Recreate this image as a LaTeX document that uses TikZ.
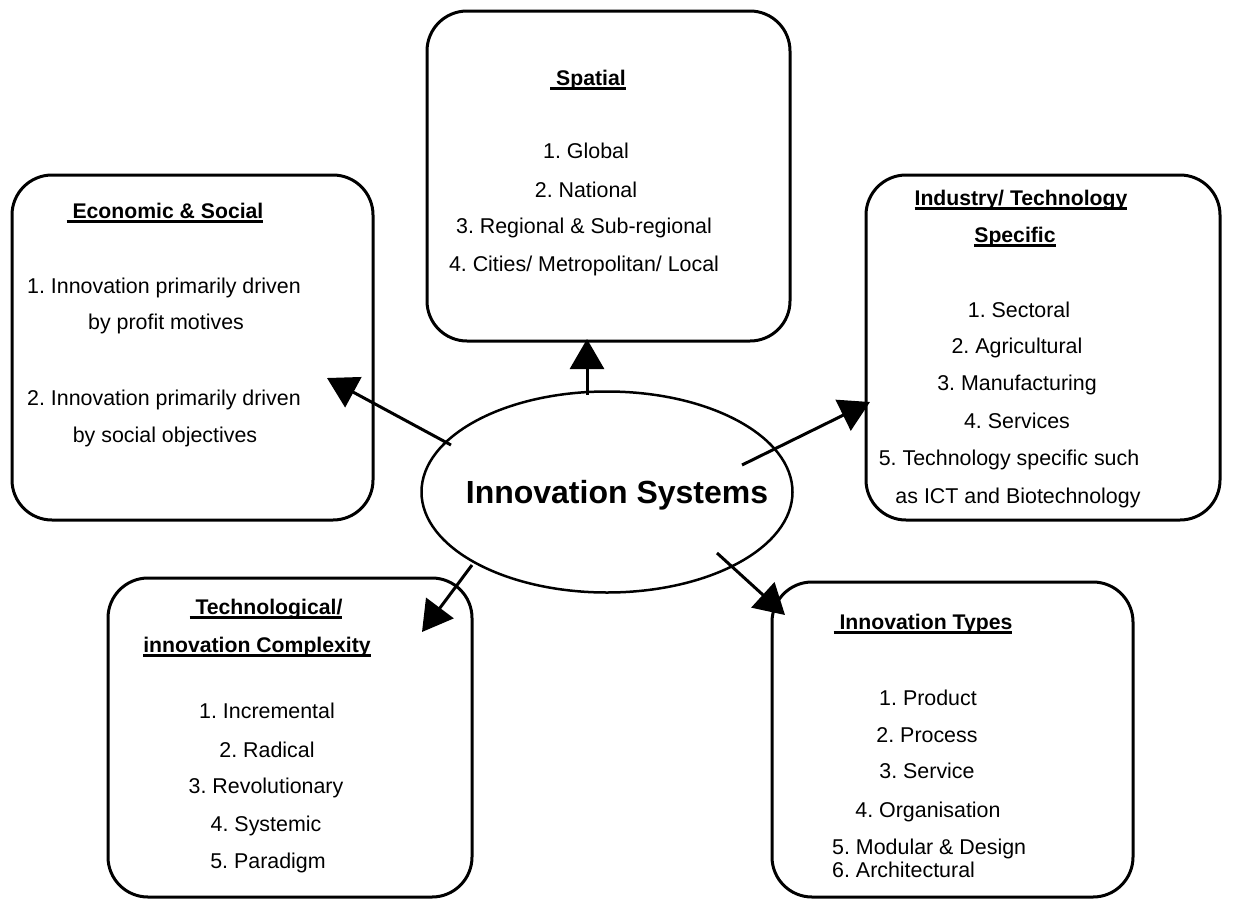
\documentclass[tikz,border=0pt]{standalone}
\usepackage{fontspec}
\setmainfont{Liberation Sans}
\usetikzlibrary{arrows.meta,shapes.geometric}
\newcommand\hdul[1]{\setbox0\hbox{#1}\rlap{\rule[-4.6pt]{\wd0}{2.2pt}}\box0}
\frenchspacing
\begin{document}
\begin{tikzpicture}[x=1pt,y=-1pt,
  box/.style={draw, line width=3pt, rounded corners=40pt, rectangle, inner sep=0pt},
  txt/.style={anchor=base, inner sep=0pt, font=\fontsize{21.4}{25}\selectfont\frenchspacing},
  hd/.style={anchor=base, inner sep=0pt, font=\fontsize{21.2}{25}\selectfont\bfseries\frenchspacing},
  arr/.style={line width=3pt, -{Triangle[length=30pt,width=34pt]}}]
\useasboundingbox (0,0) rectangle (1234,900);

% boxes
\node[box, minimum width=361pt, minimum height=345pt] (econ) at (192.5,347.5) {};
\node[box, minimum width=363pt, minimum height=330pt] (spat) at (608.5,176) {};
\node[box, minimum width=354pt, minimum height=345pt] (indu) at (1043,347.5) {};
\node[box, minimum width=364pt, minimum height=319pt] (tech) at (290,737.5) {};
\node[box, minimum width=361pt, minimum height=315pt] (type) at (952.5,739.5) {};

% centre
\node[draw, ellipse, line width=2.5pt, minimum width=371pt, minimum height=201pt, inner sep=0pt] (core) at (607,492) {};
\node[anchor=base, inner sep=0pt, font=\fontsize{32}{36}\selectfont\bfseries] (title) at (617,503) {Innovation Systems};

% Economic & Social
\node[hd]  (e0) at (165,218) {\hdul{\ Economic \& Social}};
\node[txt] (e1) at (164,293) {1. Innovation primarily driven};
\node[txt] (e2) at (166,329) {by profit motives};
\node[txt] (e3) at (164,405) {2. Innovation primarily driven};
\node[txt] (e4) at (165,442) {by social objectives};

% Spatial
\node[hd]  (s0) at (588,85) {\hdul{\ Spatial}};
\node[txt] (s1) at (586,158) {1. Global};
\node[txt] (s2) at (586,197) {2. National};
\node[txt] (s3) at (584,233) {3. Regional \& Sub-regional};
\node[txt] (s4) at (584,271) {4. Cities/ Metropolitan/ Local};

% Industry
\node[hd]  (i0) at (1021,205) {\hdul{Industry/ Technology}};
\node[hd]  (i1) at (1015,242) {\hdul{Specific}};
\node[txt] (i2) at (1019,317) {1. Sectoral};
\node[txt] (i3) at (1017,353) {2. Agricultural};
\node[txt] (i4) at (1017,390) {3. Manufacturing};
\node[txt] (i5) at (1017,428) {4. Services};
\node[txt] (i6) at (1009,465) {5. Technology specific such};
\node[txt] (i7) at (1018,503) {as ICT and Biotechnology};

% Technological
\node[hd]  (t0) at (266,614) {\hdul{\ Technological/}};
\node[hd]  (t1) at (257,652) {\hdul{innovation Complexity}};
\node[txt] (t2) at (267,718) {1. Incremental};
\node[txt] (t3) at (267,757) {2. Radical};
\node[txt] (t4) at (266,793) {3. Revolutionary};
\node[txt] (t5) at (266,831) {4. Systemic};
\node[txt] (t6) at (268,868) {5. Paradigm};

% Innovation Types
\node[hd]  (y0) at (923,629) {\hdul{\ Innovation Types}};
\node[txt] (y1) at (928,705) {1. Product};
\node[txt] (y2) at (927,742) {2. Process};
\node[txt] (y3) at (927,778) {3. Service};
\node[txt] (y4) at (928,817) {4. Organisation};
\node[txt, anchor=base west] (y5) at (832,854) {5. Modular \& Design};
\node[txt, anchor=base west] (y6) at (832,877) {6. Architectural};

% connectors
\coordinate (a1s) at (587,395); \coordinate (a1t) at (587,339);
\coordinate (a2s) at (451,445); \coordinate (a2t) at (327,378);
\coordinate (a3s) at (742,465); \coordinate (a3t) at (870,402);
\coordinate (a4s) at (472,565); \coordinate (a4t) at (422,632);
\coordinate (a5s) at (717,553); \coordinate (a5t) at (785,615);
\draw[arr] (a1s) -- (a1t);
\draw[arr] (a2s) -- (a2t);
\draw[arr] (a3s) -- (a3t);
\draw[arr] (a4s) -- (a4t);
\draw[arr] (a5s) -- (a5t);
\end{tikzpicture}
\end{document}
